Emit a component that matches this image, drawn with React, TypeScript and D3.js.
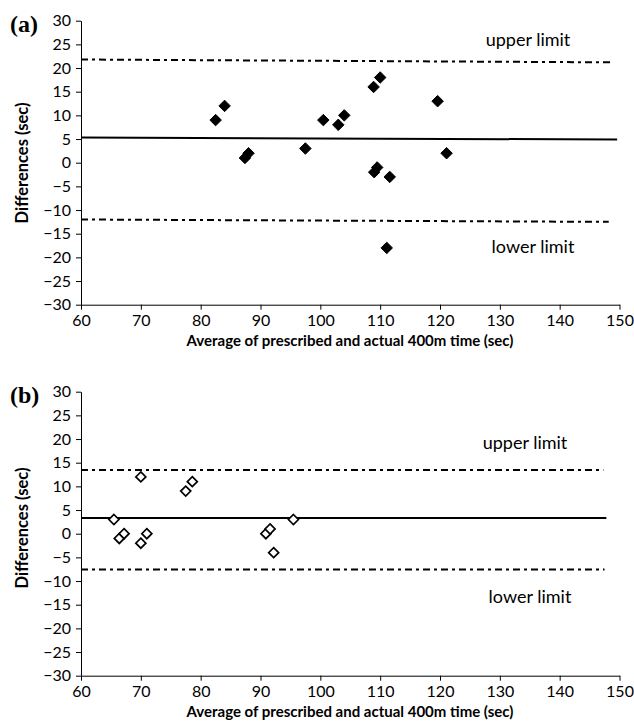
import {useEffect, useRef} from "react";
import * as d3 from "d3";

// panel (a) points: average time, difference
const avgA = [82.5, 84, 87.4, 88, 97.5, 100.5, 103, 104, 108.9, 110, 119.6, 121.1, 109, 109.5, 111.6, 111.1];
const diffA = [9, 12, 1, 2, 3, 9, 8, 10, 16, 18, 13, 2, -2, -1, -3, -18];
// panel (b) points
const avgB = [65.5, 66.4, 67.2, 70, 70, 71, 77.5, 78.6, 90.9, 91.6, 92.2, 95.5];
const diffB = [3, -1, 0, 12, -2, 0, 9, 11, 0, 1, -4, 3];

// lines: [x0, y0, x1, y1]
const meanA = [60, 5.3, 149.6, 4.9];
const upperA = [60, 21.8, 148.7, 21.2];
const lowerA = [60, -12.0, 148.2, -12.5];
const meanB = [60, 3.3, 147.8, 3.3];
const upperB = [60, 13.45, 147.3, 13.45];
const lowerB = [60, -7.55, 147.5, -7.55];

const xTicks = [60, 70, 80, 90, 100, 110, 120, 130, 140, 150];
const yTicks = [-30, -25, -20, -15, -10, -5, 0, 5, 10, 15, 20, 25, 30];

const FONT = "Lato, 'Open Sans', sans-serif";

const Panel = (props) => {
    const xRef = useRef(null);
    const yRef = useRef(null);
    const {top, label, avg, diff, mean, upper, lower, filled, upLab, lowLab, yTitle} = props;

    const x = d3.scaleLinear().domain([60, 150]).range([81, 619.5]);
    const y = d3.scaleLinear().domain([30, -30]).range([top, top + 284]);

    useEffect(() => {
        const gx = d3.select(xRef.current);
        gx.selectAll("*").remove();
        gx.call(d3.axisBottom(x).tickValues(xTicks).tickSize(5).tickPadding(5).tickSizeOuter(0));
        const gy = d3.select(yRef.current);
        gy.selectAll("*").remove();
        gy.call(d3.axisLeft(y).tickValues(yTicks).tickSize(5).tickPadding(5).tickSizeOuter(0));
        [gx, gy].forEach(g => {
            g.selectAll("text").attr("font-family", FONT).attr("font-size", 16).attr("fill", "#000");
            g.selectAll("line").attr("stroke", "#000");
            g.select(".domain").attr("stroke", "#000");
        });
    }, []);

    const sym = d3.symbol().type(d3.symbolDiamond2).size(filled ? 84 : 64);
    const seg = (l, dash) => (
        <line x1={x(l[0])} y1={y(l[1])} x2={x(l[2])} y2={y(l[3])}
              stroke="#000" strokeWidth={2} strokeDasharray={dash}/>
    );

    return (
        <g>
            <text x={10} y={top + 11} fontFamily="'Liberation Serif', serif" fontWeight="bold" fontSize={24}>{label}</text>
            <g ref={yRef} transform="translate(81,0)"/>
            <g ref={xRef} transform={`translate(0,${top + 284})`}/>
            {seg(upper, "7,4,3,4")}
            {seg(lower, "7,4,3,4")}
            {seg(mean, null)}
            {avg.map((a, i) => (
                <path key={i} d={sym()} transform={`translate(${x(a)},${y(diff[i])})`}
                      fill={filled ? "#000" : "#fff"} stroke="#000" strokeWidth={filled ? 1 : 1.7}/>
            ))}
            <text x={upLab[0]} y={upLab[1]} textAnchor="middle" fontFamily={FONT} fontSize={18}>upper limit</text>
            <text x={lowLab[0]} y={lowLab[1]} textAnchor="middle" fontFamily={FONT} fontSize={18}>lower limit</text>
            <text transform={`translate(28,${yTitle}) rotate(-90)`} textAnchor="middle"
                  fontFamily={FONT} fontWeight="bold" fontSize={16.5}>Differences (sec)</text>
            <text x={350} y={top + 325} textAnchor="middle" fontFamily={FONT} fontWeight="bold" fontSize={15}>
                Average of prescribed and actual 400m time (sec)
            </text>
        </g>
    );
};

const App = () => {
    return (
        <svg width={634} height={727} style={{position: "absolute", left: 0, top: 0, background: "#fff"}}>
            <Panel top={20.7} label="(a)" avg={avgA} diff={diffA} mean={meanA} upper={upperA} lower={lowerA}
                   filled={true} upLab={[528, 46]} lowLab={[533, 253]} yTitle={163}/>
            <Panel top={391.7} label="(b)" avg={avgB} diff={diffB} mean={meanB} upper={upperB} lower={lowerB}
                   filled={false} upLab={[525, 449]} lowLab={[530, 603]} yTitle={528}/>
        </svg>
    );
};

export default App;
